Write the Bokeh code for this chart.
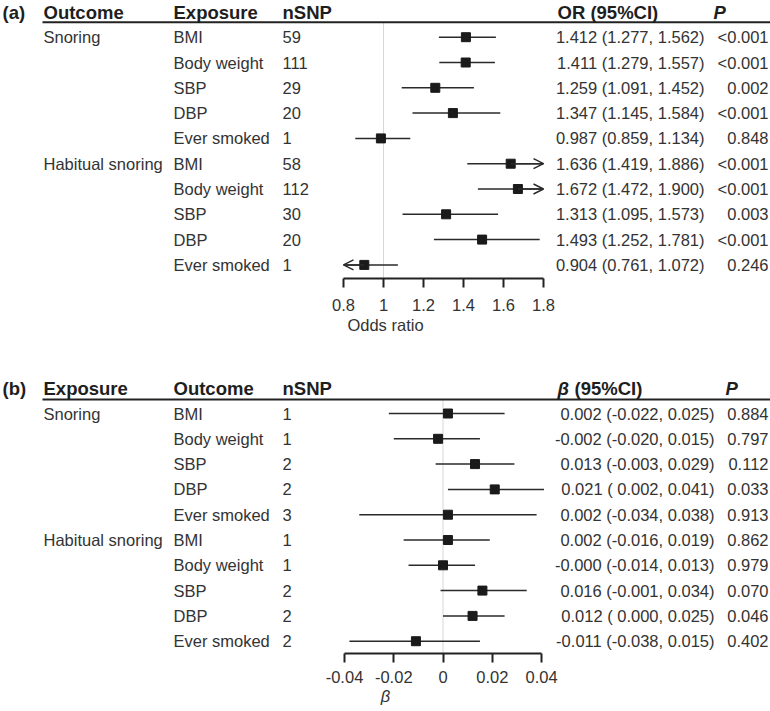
from bokeh.plotting import figure
from bokeh.models import (Range1d, LinearAxis, FixedTicker, CustomJSTickFormatter,
                          ColumnDataSource, Arrow, OpenHead)
from bokeh.layouts import column
from bokeh.core.properties import value
from bokeh.embed import file_html
from bokeh.resources import INLINE

FONT = "Liberation Sans"

# ---------------- data: panel (a) ----------------
a_groups = ["Snoring", "Habitual snoring"]
a_items = ["BMI", "Body weight", "SBP", "DBP", "Ever smoked",
           "BMI", "Body weight", "SBP", "DBP", "Ever smoked"]
a_nsnp = [59, 111, 29, 20, 1, 58, 112, 30, 20, 1]
a_or = [1.412, 1.411, 1.259, 1.347, 0.987, 1.636, 1.672, 1.313, 1.493, 0.904]
a_lo = [1.277, 1.279, 1.091, 1.145, 0.859, 1.419, 1.472, 1.095, 1.252, 0.761]
a_hi = [1.562, 1.557, 1.452, 1.584, 1.134, 1.886, 1.900, 1.573, 1.781, 1.072]
a_p = ["<0.001", "<0.001", "0.002", "<0.001", "0.848",
       "<0.001", "<0.001", "0.003", "<0.001", "0.246"]
a_ticks = [0.8, 1.0, 1.2, 1.4, 1.6, 1.8]
a_tick_labels = ["0.8", "1", "1.2", "1.4", "1.6", "1.8"]
a_heads = ["Outcome", "Exposure", "nSNP"]

# ---------------- data: panel (b) ----------------
b_groups = ["Snoring", "Habitual snoring"]
b_items = ["BMI", "Body weight", "SBP", "DBP", "Ever smoked",
           "BMI", "Body weight", "SBP", "DBP", "Ever smoked"]
b_nsnp = [1, 1, 2, 2, 3, 1, 1, 2, 2, 2]
b_beta = [0.002, -0.002, 0.013, 0.021, 0.002, 0.002, -0.000, 0.016, 0.012, -0.011]
b_lo = [-0.022, -0.020, -0.003, 0.002, -0.034, -0.016, -0.014, -0.001, 0.000, -0.038]
b_hi = [0.025, 0.015, 0.029, 0.041, 0.038, 0.019, 0.013, 0.034, 0.025, 0.015]
b_p = ["0.884", "0.797", "0.112", "0.033", "0.913",
       "0.862", "0.979", "0.070", "0.046", "0.402"]
b_ticks = [-0.04, -0.02, 0.0, 0.02, 0.04]
b_tick_labels = ["-0.04", "-0.02", "0", "0.02", "0.04"]
b_heads = ["Exposure", "Outcome", "nSNP"]

TXT = "#333333"
HEAD = "#1e1e1e"
W = 770
BODY_FS = "16.5px"
HEAD_FS = "18.5px"


def panel(tag, heads, groups, items, nsnp, est, lo, hi, ci_text, pvals,
          ticks, tick_labels, axis_label, null_val, lo_b, hi_b, clip,
          x_range, y_range, height, border_bottom, head_y, line_y,
          ci_right, est_head, p_head_x, label_standoff, axis_standoff,
          axis_label_style):
    n = len(items)
    rows = list(range(n))
    p = figure(width=W, height=height, output_backend="svg", toolbar_location=None,
               x_axis_type=None, y_axis_type=None,
               x_range=x_range, y_range=y_range,
               min_border_left=0, min_border_right=0, min_border_top=0,
               min_border_bottom=border_bottom, outline_line_color=None,
               background_fill_color="white", border_fill_color="white")
    p.extra_x_ranges = {"px": Range1d(0, W)}

    # reference line
    p.segment(x0=[null_val], x1=[null_val], y0=[line_y], y1=[y_range.start],
              line_color="#d6d6d6", line_width=1)
    # header rule
    p.segment(x0=[42], x1=[W], y0=[line_y], y1=[line_y], x_range_name="px",
              line_color="#222222", line_width=2)

    # CI lines (clipped to axis bounds when requested)
    if clip:
        clo = [max(v, lo_b) for v in lo]
        chi = [min(v, hi_b) for v in hi]
    else:
        clo, chi = list(lo), list(hi)
    src = ColumnDataSource(dict(y=rows, est=est, lo=clo, hi=chi))
    p.segment(x0="lo", x1="hi", y0="y", y1="y", source=src,
              line_color="#2a2a2a", line_width=1.5)
    # arrows where CI exceeds the axis
    if clip:
        ax_s, ax_e, ay = [], [], []
        for i in rows:
            if hi[i] > hi_b:
                ax_s.append(est[i]); ax_e.append(hi_b); ay.append(i)
            if lo[i] < lo_b:
                ax_s.append(est[i]); ax_e.append(lo_b); ay.append(i)
        if ay:
            asrc = ColumnDataSource(dict(xs=ax_s, xe=ax_e, y=ay))
            p.add_layout(Arrow(end=OpenHead(size=10, line_width=1.5, line_color="#2a2a2a"),
                               x_start="xs", x_end="xe", y_start="y", y_end="y",
                               source=asrc, line_width=1.5, line_color="#2a2a2a"))
    p.scatter(x="est", y="y", source=src, marker="square", size=9,
              fill_color="#1a1a1a", line_color="#1a1a1a")

    common = dict(x_range_name="px", text_font=value(FONT), text_baseline="middle")
    # panel tag
    p.text(x=[2], y=[head_y], text=[tag], text_font_size=HEAD_FS,
           text_font_style="bold", text_color=HEAD, **common)
    # column heads
    p.text(x=[43, 173, 282], y=[head_y] * 3, text=heads, text_font_size=HEAD_FS,
           text_font_style="bold", text_color=HEAD, **common)
    # estimate head
    p.text(x=[557], y=[head_y], text=[est_head[0]], text_font_size=HEAD_FS,
           text_font_style=est_head[1], text_color=HEAD, **common)
    if est_head[2]:
        p.text(x=[est_head[3]], y=[head_y], text=[est_head[2]], text_font_size=HEAD_FS,
               text_font_style="bold", text_color=HEAD, **common)
    p.text(x=[p_head_x], y=[head_y], text=["P"], text_font_size=HEAD_FS,
           text_font_style="bold italic", text_color=HEAD, **common)

    # left columns
    gy = [0, n // 2]
    p.text(x=[43, 43], y=gy, text=groups, text_font_size=BODY_FS,
           text_color=TXT, **common)
    p.text(x=[173] * n, y=rows, text=items, text_font_size=BODY_FS,
           text_color=TXT, **common)
    p.text(x=[282] * n, y=rows, text=[str(v) for v in nsnp], text_font_size=BODY_FS,
           text_color=TXT, **common)
    # right columns
    p.text(x=[ci_right] * n, y=rows, text=ci_text, text_font_size=BODY_FS,
           text_align="right", text_color=TXT, **common)
    p.text(x=[768] * n, y=rows, text=pvals, text_font_size=BODY_FS,
           text_align="right", text_color=TXT, **common)

    fmt = CustomJSTickFormatter(args=dict(vals=ticks, labs=tick_labels), code="""
        for (let i = 0; i < vals.length; i++) {
            if (Math.abs(vals[i] - tick) < 1e-9) { return labs[i]; }
        }
        return '';
    """)
    ax = LinearAxis(ticker=FixedTicker(ticks=ticks), formatter=fmt,
                    bounds=(lo_b, hi_b), axis_label=axis_label,
                    axis_line_width=2, axis_line_color="#222222",
                    major_tick_line_width=2, major_tick_line_color="#222222",
                    major_tick_in=0, major_tick_out=9,
                    minor_tick_line_color=None,
                    major_label_standoff=label_standoff,
                    major_label_text_font=FONT, major_label_text_font_size=BODY_FS,
                    major_label_text_color=TXT,
                    axis_label_standoff=axis_standoff,
                    axis_label_text_font=FONT, axis_label_text_font_size=BODY_FS,
                    axis_label_text_font_style=axis_label_style,
                    axis_label_text_color=TXT)
    p.add_layout(ax, "below")
    return p


a_ci = [f"{e:.3f} ({l:.3f}, {h:.3f})" for e, l, h in zip(a_or, a_lo, a_hi)]
b_ci = [f"{e:.3f} ({l:6.3f}, {h:.3f})" for e, l, h in zip(b_beta, b_lo, b_hi)]

pa = panel("(a)", a_heads, a_groups, a_items, a_nsnp, a_or, a_lo, a_hi, a_ci, a_p,
           a_ticks, a_tick_labels, "Odds ratio", 1.0, 0.8, 1.8, True,
           Range1d(-0.915, 2.935), Range1d(9.5375, -1.4506), 345, 67,
           -0.976, -0.593, 704, ("OR (95%CI)", "bold", "", 0), 713, 11, 2, "normal")

pb = panel("(b)", b_heads, b_groups, b_items, b_nsnp, b_beta, b_lo, b_hi, b_ci, b_p,
           b_ticks, b_tick_labels, "β", 0.0, -0.04, 0.04, False,
           Range1d(-0.17970, 0.13299), Range1d(9.486, -2.688), 366, 58,
           -0.988, -0.553, 714, ("β", "bold italic", "(95%CI)", 574), 725, 8, 1, "italic")

layout = column(pa, pb, spacing=0)
open("out.html", "w").write(file_html(layout, INLINE))
